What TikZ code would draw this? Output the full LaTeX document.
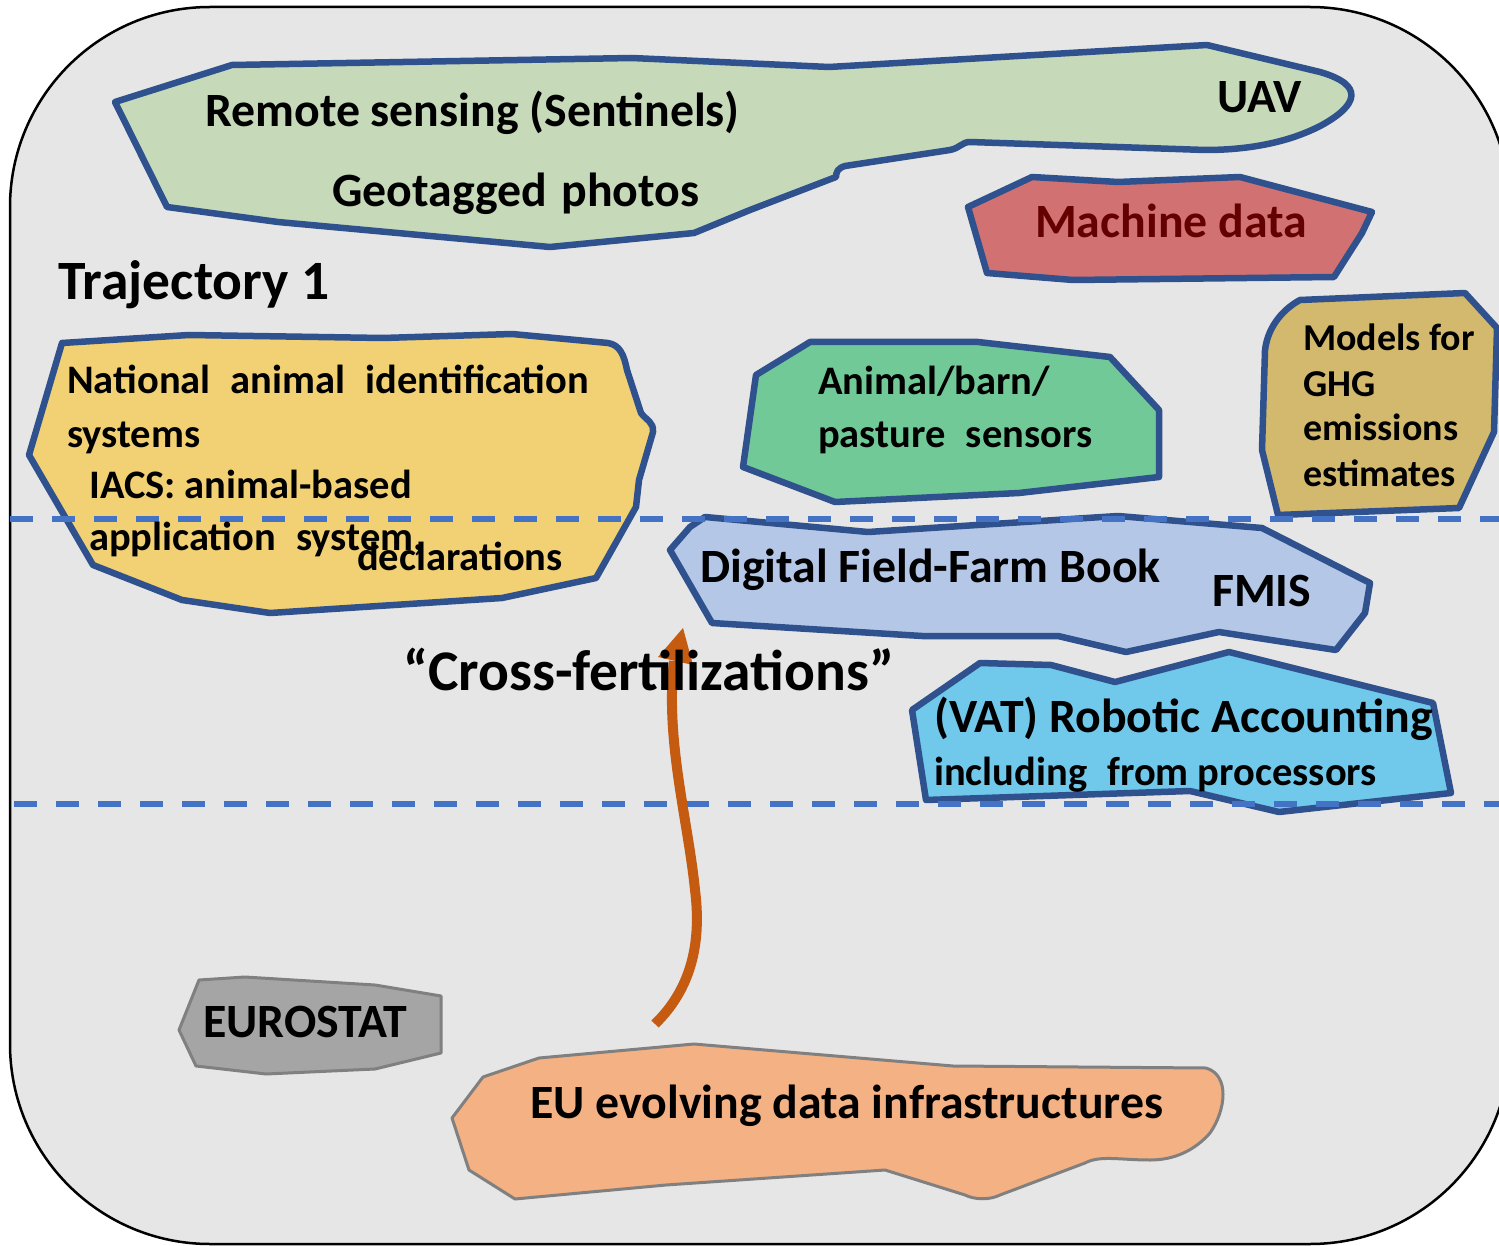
\documentclass[tikz,border=0pt]{standalone}
\usepackage{fontspec}
\setmainfont{Carlito}
\definecolor{panel}{RGB}{231,230,230}
\definecolor{blobline}{RGB}{47,82,143}
\definecolor{dashblue}{RGB}{68,114,196}
\definecolor{rsgreen}{RGB}{198,218,186}
\definecolor{machred}{RGB}{210,113,113}
\definecolor{machtext}{RGB}{100,0,0}
\definecolor{natyellow}{RGB}{242,209,116}
\definecolor{sensgreen}{RGB}{112,201,151}
\definecolor{ghgtan}{RGB}{211,185,110}
\definecolor{fmisblue}{RGB}{180,199,231}
\definecolor{vatblue}{RGB}{112,200,235}
\definecolor{statgray}{RGB}{165,165,165}
\definecolor{grayline}{RGB}{128,128,128}
\definecolor{euorange}{RGB}{244,177,131}
\definecolor{arroworange}{RGB}{197,90,17}
\tikzset{
  blob/.style={draw=blobline, line width=6.5pt, line join=round},
  greyblob/.style={draw=grayline, line width=3pt, line join=round},
  divider/.style={draw=dashblue, line width=6pt, dash pattern=on 23pt off 19pt},
  lbl/.style={anchor=base west, inner sep=0pt, font=\bfseries\fontsize{47.8}{56}\selectfont},
  smalllbl/.style={anchor=base west, inner sep=0pt, font=\bfseries\fontsize{40.5}{48}\selectfont},
  ghglbl/.style={anchor=base west, inner sep=0pt, font=\bfseries\fontsize{38}{45}\selectfont},
}
\newcommand{\wsp}{\hspace{0.5em}}
\begin{document}
\begin{tikzpicture}[x=1pt, y=-1pt]
\useasboundingbox (0,0) rectangle (1499,1246);
\fill[white] (0,0) rectangle (1499,1246);
\clip (0,0) rectangle (1499,1246);

% panel
\draw[fill=panel, line width=2.5pt, rounded corners=200pt] (10,7) rectangle (1510,1244);

% remote sensing / UAV region
\path[blob, fill=rsgreen] (115,102) -- (232,65) -- (632,58) -- (829,67) -- (1207,45) -- (1320,72)
  .. controls (1365,85) and (1358,105) .. (1322,125)
  .. controls (1290,142) and (1250,150) .. (1205,150) -- (970,142)
  .. controls (962,142) and (960,148) .. (950,150) -- (845,166)
  .. controls (838,168) and (836,172) .. (836,177) -- (750,210) -- (694,233) -- (550,247)
  -- (278,222) -- (167,207) -- cycle;

% machine data
\path[blob, fill=machred] (968,207) -- (1032,177) -- (1118,182) -- (1240,177) -- (1372,212)
  -- (1362,233) -- (1334,277) -- (1073,280) -- (987,273) -- cycle;

% national animal identification
\path[blob, fill=natyellow] (62,343) -- (189,335) -- (383,338) -- (512,334) -- (608,343)
  .. controls (620,345) and (624,355) .. (627,370) -- (641,413)
  .. controls (646,420) and (654,422) .. (653,432) -- (639,480) -- (636,507) -- (596,578)
  -- (502,598) -- (270,613) -- (182,600) -- (93,565) -- (29,455) -- cycle;

% sensors
\path[blob, fill=sensgreen] (810,342) -- (978,342) -- (1110,357) -- (1159,410) -- (1159,477)
  -- (1019,493) -- (835,502) -- (743,467) -- (756,375) -- cycle;

% GHG models
\path[blob, fill=ghgtan] (1262,450) -- (1265,350) .. controls (1268,325) and (1285,308) .. (1300,300)
  -- (1465,293) -- (1497,328) -- (1494,432) -- (1459,508) -- (1278,515) -- cycle;

% digital field-farm book
\path[blob, fill=fmisblue] (670,550) -- (690,527) -- (705,517) -- (868,532) -- (1118,516)
  -- (1262,528) -- (1370,583) -- (1365,613) -- (1336,650) -- (1219,632) -- (1126,652)
  -- (1058,636) -- (922,636) -- (712,623) -- cycle;

% robotic accounting
\path[blob, fill=vatblue] (912,710) -- (980,663) -- (1051,665) -- (1115,682) -- (1229,652)
  -- (1433,703) -- (1451,793) -- (1279,812) -- (1190,791) -- (926,800) -- cycle;

% eurostat
\path[greyblob, fill=statgray] (199,980) -- (245,977) -- (375,985) -- (441,996) -- (441,1053)
  -- (375,1069) -- (266,1074) -- (196,1066) -- (179,1030) -- cycle;

% EU infrastructures
\path[greyblob, fill=euorange] (483,1077) -- (539,1058) -- (694,1044) -- (953,1066) -- (1206,1068)
  .. controls (1230,1075) and (1226,1110) .. (1210,1133)
  .. controls (1195,1150) and (1175,1160) .. (1150,1160)
  .. controls (1120,1160) and (1100,1155) .. (1085,1163) -- (1000,1195)
  .. controls (990,1200) and (975,1200) .. (965,1195) -- (885,1170) -- (666,1185)
  -- (515,1199) -- (469,1170) -- (452,1118) -- cycle;

% trajectory dividers
\coordinate (divAw) at (10,519);
\coordinate (divAe) at (1499,519);
\coordinate (divBw) at (14,804);
\coordinate (divBe) at (1499,804);
\draw[divider] (divAw) -- (divAe);
\draw[divider] (divBw) -- (divBe);

% cross-fertilization arrow
\coordinate (arrowtail) at (655,1024);
\coordinate (arrowneck) at (674,661);
\coordinate (arrowtip) at (683,628);
\draw[arroworange, line width=10pt, line cap=butt] (arrowtail)
  .. controls (690,990) and (702,945) .. (695,890)
  .. controls (688,820) and (665,740) .. (arrowneck);
\fill[arroworange] (arrowtip) -- (693,665) -- (658,657) -- cycle;

% labels
\node[lbl] (rs) at (205,127) {Remote sensing (Sentinels)};
\node[lbl] (geo) at (332,207) {Geotagged\hspace{0.3em}photos};
\node[lbl] (uav) at (1217,113) {UAV};
\node[lbl, text=machtext] (mach) at (1035,238) {Machine data};
\node[anchor=base west, inner sep=0pt, font=\bfseries\fontsize{55.5}{62}\selectfont] (traj) at (58,300) {Trajectory 1};
\node[smalllbl] (nat1) at (67,394) {National\wsp animal\wsp identification};
\node[smalllbl] (nat2) at (67,447) {systems};
\node[smalllbl] (iacs1) at (89,498) {IACS: animal-based};
\node[smalllbl] (iacs2) at (89,550) {application\wsp system,};
\node[smalllbl] (iacs3) at (357,570) {declarations};
\node[smalllbl] (sens1) at (818,395) {Animal/barn/};
\node[smalllbl] (sens2) at (818,447) {pasture\wsp sensors};
\node[ghglbl] (ghg1) at (1303,351) {Models for};
\node[ghglbl] (ghg2) at (1303,396) {GHG};
\node[ghglbl] (ghg3) at (1303,440) {emissions};
\node[ghglbl] (ghg4) at (1303,486) {estimates};
\node[lbl] (dffb) at (700,582) {Digital Field-Farm Book};
\node[lbl] (fmis) at (1212,606) {FMIS};
\node[anchor=base west, inner sep=0pt, font=\bfseries\fontsize{57.5}{64}\selectfont] (cross) at (403,690) {“Cross-fertilizations”};
\node[lbl] (vat1) at (934,732) {(VAT) Robotic Accounting};
\node[smalllbl] (vat2) at (934,785) {including\wsp from processors};
\node[lbl] (stat) at (203,1037) {EUROSTAT};
\node[lbl] (eu) at (530,1118) {EU evolving data infrastructures};
\end{tikzpicture}
\end{document}
